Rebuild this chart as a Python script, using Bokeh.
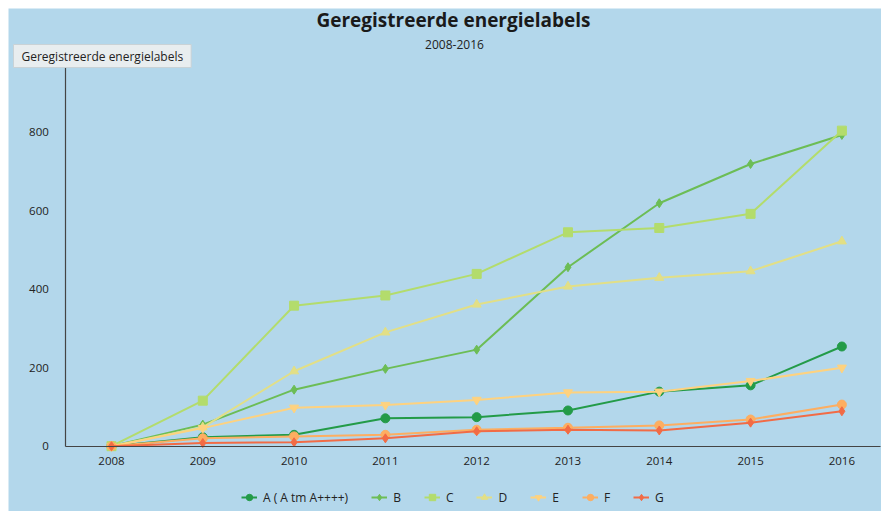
from bokeh.plotting import figure
from bokeh.models import Range1d, FixedTicker, Label, Legend, LegendItem, LinearAxis
from bokeh.embed import file_html
from bokeh.resources import INLINE

years = [2008, 2009, 2010, 2011, 2012, 2013, 2014, 2015, 2016]
label_a = [0, 23, 29, 71, 74, 91, 139, 155, 254]
label_b = [0, 55, 144, 197, 246, 456, 619, 719, 793]
label_c = [0, 116, 358, 384, 439, 545, 556, 592, 804]
label_d = [0, 48, 191, 290, 361, 407, 429, 446, 522]
label_e = [0, 46, 98, 105, 118, 137, 139, 166, 200]
label_f = [0, 20, 25, 29, 42, 47, 53, 68, 106]
label_g = [0, 8, 10, 20, 38, 42, 40, 60, 89]
series_names = ["A ( A tm A++++)", "B", "C", "D", "E", "F", "G"]
y_ticks = [0, 200, 400, 600, 800]

FONT = "Open Sans"
BG = "#b3d7eb"

series = [label_a, label_b, label_c, label_d, label_e, label_f, label_g]
colors = ["#239b48", "#6cbd55", "#b3dc6c", "#e2df86", "#fed27f", "#fdae61", "#f26b45"]
markers = ["circle", "diamond", "square", "triangle", "inverted_triangle", "circle", "diamond"]
sizes = [9, 9, 9, 9, 9, 9, 9]

W, H = 873, 503
p = figure(width=W, height=H, output_backend="svg", toolbar_location=None,
           x_range=Range1d(2006.872, 2016.434), y_range=Range1d(-166.4, 1115.2),
           x_axis_location=None, y_axis_location=None, min_border=0)
p.styles = {"margin-left": "8px", "margin-top": "8px"}
p.background_fill_color = BG
p.border_fill_color = BG
p.outline_line_color = None
p.grid.visible = False

xaxis = LinearAxis(fixed_location=0, bounds=(2007.5, 2016.42),
                   ticker=FixedTicker(ticks=years), major_label_standoff=11)
yaxis = LinearAxis(fixed_location=2007.5, bounds=(0, 965),
                   ticker=FixedTicker(ticks=y_ticks), major_label_standoff=17)
for ax in (xaxis, yaxis):
    ax.major_tick_in = 0
    ax.major_tick_out = 0
    ax.minor_tick_in = 0
    ax.minor_tick_out = 0
    ax.axis_line_color = "#444444"
    ax.axis_line_width = 1.2
    ax.major_label_text_font = FONT
    ax.major_label_text_font_size = "11.5px"
    ax.major_label_text_color = "#222222"
p.add_layout(xaxis, "below")
p.add_layout(yaxis, "left")

items = []
for name, vals, c, m, s in zip(series_names, series, colors, markers, sizes):
    r1 = p.line(years, vals, line_color=c, line_width=2)
    r2 = p.scatter(years, vals, marker=m, size=s, fill_color=c, line_color=c)
    items.append(LegendItem(label=name, renderers=[r1, r2]))

legend = Legend(items=items, orientation="horizontal", location=(233, 5),
                background_fill_alpha=0, border_line_color=None,
                padding=0, margin=0, spacing=23, glyph_width=16, glyph_height=18,
                label_standoff=6, label_width=1,
                label_text_font=FONT, label_text_font_size="12px",
                label_text_color="#222222")
p.add_layout(legend, "center")

title = Label(x=445, y=492, x_units="screen", y_units="screen",
              text="Geregistreerde energielabels", text_align="center",
              text_baseline="middle", text_font=FONT, text_font_size="19px",
              text_font_style="bold", text_color="#1a1a1a")
sub = Label(x=446, y=467, x_units="screen", y_units="screen",
            text="2008-2016", text_align="center", text_baseline="middle",
            text_font=FONT, text_font_size="12px", text_color="#222222")
ylab = Label(x=5, y=455.5, x_units="screen", y_units="screen",
             text="Geregistreerde energielabels", text_align="left",
             text_baseline="middle", text_font=FONT, text_font_size="12px",
             text_color="#222222", background_fill_color="#e8edef",
             border_line_color="#c9d2d6", padding=(8, 3))
p.add_layout(title)
p.add_layout(sub)
p.add_layout(ylab)

open("out.html", "w").write(file_html(p, INLINE))
